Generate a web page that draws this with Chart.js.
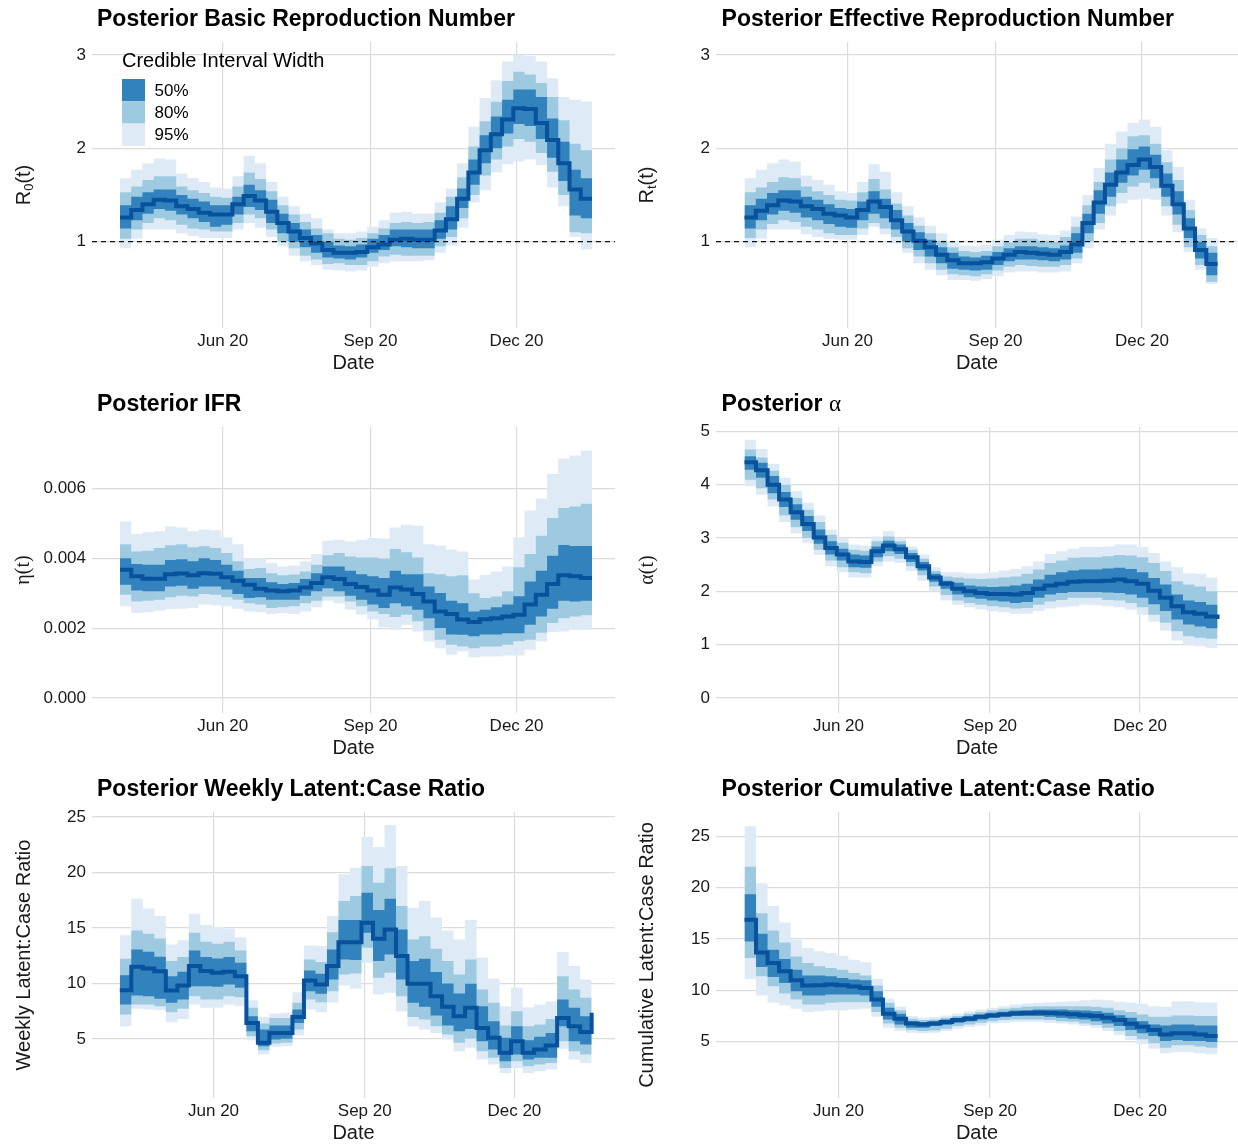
<!DOCTYPE html>
<html>
<head>
<meta charset="utf-8">
<title>Posterior estimates</title>
<script src="https://cdn.jsdelivr.net/npm/chart.js@4.4.1/dist/chart.umd.min.js"></script>
<style>
  html, body { margin: 0; padding: 0; background: #fff; }
  #wrap { position: relative; width: 1238px; height: 1145px; }
  canvas { position: absolute; }
</style>
</head>
<body>
<div id="wrap">
  <canvas id="c1" width="619" height="385" style="left:0;top:0"></canvas>
  <canvas id="c2" width="619" height="385" style="left:619px;top:0"></canvas>
  <canvas id="c3" width="619" height="385" style="left:0;top:385px"></canvas>
  <canvas id="c4" width="619" height="385" style="left:619px;top:385px"></canvas>
  <canvas id="c5" width="619" height="375" style="left:0;top:770px"></canvas>
  <canvas id="c6" width="619" height="375" style="left:619px;top:770px"></canvas>
</div>
<script>
// weekly dates (start of each week), last one closes the final step
const weekDates = ['2020-03-29','2020-04-05','2020-04-12','2020-04-19','2020-04-26','2020-05-03','2020-05-10','2020-05-17','2020-05-24','2020-05-31',
  '2020-06-07','2020-06-14','2020-06-21','2020-06-28','2020-07-05','2020-07-12','2020-07-19','2020-07-26','2020-08-02','2020-08-09',
  '2020-08-16','2020-08-23','2020-08-30','2020-09-06','2020-09-13','2020-09-20','2020-09-27','2020-10-04','2020-10-11','2020-10-18',
  '2020-10-25','2020-11-01','2020-11-08','2020-11-15','2020-11-22','2020-11-29','2020-12-06','2020-12-13','2020-12-20','2020-12-27',
  '2021-01-03','2021-01-10','2021-01-17'];
const xTickDates = ['2020-06-01', '2020-09-01', '2020-12-01'];
const xTickLabels = ['Jun 20', 'Sep 20', 'Dec 20'];
const legendLabels = ['50%', '80%', '95%'];

// basic reproduction number R0(t)
const r0Median = [1.26,1.34,1.40,1.45,1.44,1.38,1.35,1.31,1.29,1.29,1.40,1.49,1.44,1.32,1.20,1.11,1.04,0.98,0.91,0.88,0.88,0.89,0.94,0.97,1.02,1.03,1.02,1.02,1.12,1.24,1.46,1.74,1.98,2.15,2.31,2.43,2.42,2.27,2.09,1.84,1.56,1.46,1.46];
const r0Lo50 = [1.14,1.23,1.30,1.35,1.33,1.29,1.25,1.21,1.16,1.18,1.29,1.37,1.34,1.20,1.09,1.00,0.94,0.88,0.83,0.82,0.81,0.83,0.88,0.91,0.95,0.94,0.93,0.93,1.03,1.13,1.36,1.61,1.84,2.00,2.16,2.26,2.24,2.10,1.90,1.65,1.28,1.25,1.25];
const r0Hi50 = [1.39,1.48,1.53,1.56,1.56,1.50,1.46,1.43,1.39,1.39,1.48,1.61,1.55,1.45,1.30,1.20,1.13,1.07,1.00,0.96,0.95,0.97,1.03,1.07,1.13,1.13,1.13,1.13,1.23,1.38,1.57,1.88,2.14,2.34,2.52,2.63,2.63,2.55,2.32,2.07,1.77,1.68,1.68];
const r0Lo80 = [1.03,1.13,1.20,1.25,1.23,1.18,1.14,1.13,1.11,1.11,1.20,1.29,1.25,1.13,1.00,0.93,0.85,0.81,0.76,0.77,0.75,0.75,0.79,0.84,0.86,0.85,0.85,0.85,0.95,1.05,1.25,1.50,1.71,1.88,2.02,2.10,2.07,1.95,1.75,1.50,1.10,1.09,1.09];
const r0Hi80 = [1.53,1.59,1.66,1.70,1.70,1.59,1.55,1.52,1.48,1.47,1.59,1.74,1.67,1.54,1.39,1.29,1.21,1.14,1.09,1.03,1.02,1.04,1.09,1.14,1.20,1.21,1.20,1.21,1.31,1.48,1.69,2.02,2.29,2.50,2.72,2.82,2.79,2.70,2.55,2.30,2.05,1.98,1.98];
const r0Lo95 = [0.93,1.03,1.13,1.13,1.13,1.09,1.06,1.04,1.04,1.04,1.13,1.20,1.15,1.05,0.95,0.85,0.79,0.75,0.70,0.69,0.68,0.69,0.73,0.77,0.79,0.79,0.79,0.80,0.88,0.96,1.15,1.42,1.55,1.74,1.83,1.86,1.88,1.82,1.58,1.38,1.05,0.92,0.92];
const r0Hi95 = [1.68,1.77,1.84,1.89,1.88,1.73,1.68,1.64,1.58,1.57,1.70,1.92,1.84,1.64,1.48,1.38,1.30,1.25,1.13,1.09,1.09,1.11,1.16,1.23,1.31,1.32,1.30,1.30,1.42,1.57,1.84,2.23,2.54,2.73,2.93,3.00,2.99,2.93,2.75,2.55,2.52,2.50,2.50];

// effective reproduction number Rt(t)
const rtMedian = [1.26,1.33,1.39,1.44,1.43,1.38,1.35,1.30,1.28,1.26,1.34,1.43,1.37,1.23,1.11,1.01,0.94,0.86,0.80,0.77,0.77,0.78,0.82,0.86,0.89,0.88,0.87,0.86,0.89,0.97,1.20,1.42,1.61,1.74,1.82,1.88,1.80,1.60,1.40,1.14,0.91,0.76,0.76];
const rtLo50 = [1.14,1.23,1.29,1.33,1.31,1.26,1.23,1.19,1.16,1.15,1.23,1.30,1.25,1.13,1.00,0.91,0.84,0.77,0.71,0.70,0.69,0.70,0.75,0.79,0.81,0.81,0.80,0.79,0.81,0.88,1.09,1.30,1.48,1.63,1.71,1.77,1.68,1.48,1.29,1.04,0.82,0.64,0.64];
const rtHi50 = [1.39,1.46,1.52,1.55,1.55,1.48,1.45,1.40,1.36,1.35,1.43,1.54,1.46,1.34,1.20,1.10,1.02,0.94,0.88,0.84,0.83,0.85,0.89,0.93,0.95,0.95,0.94,0.93,0.96,1.09,1.30,1.55,1.74,1.88,1.99,2.02,1.93,1.73,1.54,1.25,1.00,0.88,0.88];
const rtLo80 = [1.04,1.13,1.19,1.23,1.21,1.16,1.13,1.09,1.07,1.07,1.14,1.20,1.14,1.05,0.93,0.84,0.77,0.70,0.65,0.64,0.63,0.65,0.69,0.73,0.75,0.74,0.73,0.73,0.75,0.82,1.00,1.20,1.38,1.52,1.59,1.63,1.57,1.38,1.18,0.94,0.75,0.57,0.57];
const rtHi80 = [1.53,1.58,1.64,1.69,1.68,1.59,1.54,1.50,1.45,1.44,1.53,1.67,1.56,1.41,1.28,1.17,1.09,1.01,0.94,0.90,0.89,0.90,0.95,0.99,1.03,1.03,1.01,1.00,1.05,1.16,1.39,1.64,1.88,2.00,2.13,2.14,2.05,1.85,1.66,1.34,1.07,0.95,0.95];
const rtLo95 = [0.94,1.03,1.13,1.13,1.13,1.08,1.05,1.03,1.02,1.02,1.07,1.16,1.08,0.98,0.88,0.77,0.70,0.64,0.59,0.59,0.58,0.60,0.63,0.67,0.68,0.68,0.67,0.67,0.68,0.77,0.93,1.13,1.28,1.41,1.45,1.46,1.45,1.28,1.10,0.89,0.70,0.55,0.48];
const rtHi95 = [1.68,1.77,1.84,1.88,1.86,1.71,1.66,1.61,1.54,1.52,1.64,1.83,1.75,1.53,1.38,1.26,1.17,1.09,1.01,0.96,0.95,0.97,1.02,1.07,1.11,1.10,1.08,1.07,1.12,1.27,1.50,1.79,2.05,2.18,2.27,2.31,2.23,1.98,1.80,1.45,1.14,1.04,1.04];

// infection fatality ratio eta(t)
const ifrMedian = [0.00368,0.00349,0.00342,0.00342,0.00355,0.00357,0.00352,0.00358,0.00356,0.00346,0.00336,0.00325,0.00313,0.00308,0.00306,0.00308,0.00317,0.00330,0.00346,0.00341,0.00327,0.00318,0.00308,0.00296,0.00317,0.00311,0.00298,0.00277,0.00248,0.00241,0.00225,0.00218,0.00226,0.00229,0.00234,0.00239,0.00268,0.00296,0.00327,0.00352,0.00349,0.00344,0.00344];
const ifrLo50 = [0.00325,0.00308,0.00306,0.00306,0.00320,0.00322,0.00313,0.00320,0.00320,0.00311,0.00298,0.00287,0.00289,0.00282,0.00282,0.00282,0.00293,0.00306,0.00315,0.00306,0.00293,0.00282,0.00268,0.00258,0.00272,0.00263,0.00253,0.00229,0.00201,0.00182,0.00181,0.00177,0.00182,0.00182,0.00186,0.00186,0.00210,0.00234,0.00256,0.00279,0.00277,0.00279,0.00279];
const ifrHi50 = [0.00401,0.00384,0.00382,0.00382,0.00396,0.00398,0.00392,0.00401,0.00396,0.00382,0.00365,0.00344,0.00344,0.00332,0.00327,0.00330,0.00341,0.00358,0.00377,0.00377,0.00365,0.00355,0.00349,0.00344,0.00365,0.00355,0.00355,0.00320,0.00301,0.00279,0.00272,0.00248,0.00253,0.00260,0.00268,0.00292,0.00334,0.00365,0.00408,0.00439,0.00436,0.00436,0.00436];
const ifrLo80 = [0.00296,0.00277,0.00279,0.00282,0.00289,0.00293,0.00291,0.00298,0.00296,0.00289,0.00282,0.00272,0.00268,0.00258,0.00260,0.00263,0.00272,0.00279,0.00291,0.00291,0.00277,0.00263,0.00248,0.00241,0.00232,0.00239,0.00220,0.00194,0.00167,0.00153,0.00148,0.00143,0.00148,0.00148,0.00153,0.00163,0.00167,0.00187,0.00215,0.00229,0.00234,0.00237,0.00237];
const ifrHi80 = [0.00441,0.00420,0.00422,0.00430,0.00438,0.00441,0.00432,0.00435,0.00430,0.00416,0.00392,0.00370,0.00373,0.00358,0.00352,0.00354,0.00363,0.00382,0.00409,0.00416,0.00406,0.00403,0.00403,0.00400,0.00427,0.00418,0.00403,0.00358,0.00355,0.00349,0.00352,0.00300,0.00287,0.00291,0.00306,0.00375,0.00413,0.00465,0.00516,0.00545,0.00549,0.00557,0.00557];
const ifrLo95 = [0.00263,0.00244,0.00246,0.00250,0.00255,0.00256,0.00258,0.00268,0.00266,0.00263,0.00256,0.00248,0.00246,0.00241,0.00244,0.00241,0.00248,0.00260,0.00279,0.00272,0.00253,0.00239,0.00225,0.00203,0.00196,0.00210,0.00191,0.00162,0.00143,0.00124,0.00134,0.00117,0.00119,0.00119,0.00122,0.00122,0.00138,0.00162,0.00189,0.00191,0.00196,0.00196,0.00196];
const ifrHi95 = [0.00506,0.00470,0.00475,0.00478,0.00492,0.00489,0.00478,0.00483,0.00481,0.00461,0.00441,0.00401,0.00401,0.00387,0.00377,0.00380,0.00392,0.00413,0.00451,0.00454,0.00449,0.00454,0.00459,0.00457,0.00489,0.00497,0.00494,0.00441,0.00437,0.00425,0.00420,0.00340,0.00353,0.00363,0.00377,0.00461,0.00537,0.00571,0.00642,0.00686,0.00695,0.00709,0.00740];

// alpha(t), from the second week
const alphaMedian = [4.42,4.27,4.00,3.72,3.48,3.26,3.01,2.81,2.69,2.56,2.55,2.75,2.86,2.79,2.64,2.47,2.26,2.14,2.05,2.00,1.97,1.95,1.95,1.94,1.97,2.05,2.11,2.14,2.18,2.19,2.19,2.20,2.22,2.19,2.14,2.01,1.88,1.72,1.61,1.58,1.53,1.48];
const alphaLo50 = [4.28,4.13,3.84,3.58,3.34,3.13,2.89,2.69,2.58,2.45,2.44,2.64,2.75,2.70,2.55,2.39,2.18,2.05,1.94,1.89,1.86,1.83,1.81,1.78,1.80,1.88,1.94,1.97,1.99,1.99,1.99,1.98,1.97,1.94,1.88,1.76,1.63,1.47,1.38,1.34,1.31,1.28];
const alphaHi50 = [4.53,4.41,4.16,3.86,3.63,3.41,3.16,2.94,2.80,2.69,2.67,2.84,2.95,2.88,2.72,2.55,2.33,2.20,2.16,2.11,2.09,2.08,2.09,2.11,2.14,2.22,2.31,2.36,2.39,2.41,2.41,2.43,2.44,2.42,2.36,2.25,2.13,1.94,1.83,1.80,1.75,1.72];
const alphaLo80 = [4.09,3.93,3.72,3.42,3.20,3.00,2.78,2.58,2.45,2.36,2.34,2.56,2.66,2.61,2.47,2.30,2.09,1.93,1.83,1.78,1.75,1.72,1.70,1.68,1.69,1.75,1.81,1.84,1.88,1.88,1.88,1.84,1.83,1.78,1.70,1.56,1.41,1.25,1.16,1.13,1.11,1.09];
const alphaHi80 = [4.66,4.51,4.26,4.00,3.75,3.53,3.30,3.06,2.91,2.78,2.76,2.94,3.03,2.94,2.78,2.61,2.38,2.28,2.26,2.24,2.23,2.24,2.26,2.28,2.33,2.41,2.53,2.58,2.63,2.64,2.64,2.66,2.68,2.67,2.64,2.53,2.38,2.19,2.13,2.09,2.00,1.98];
const alphaLo95 = [3.97,3.81,3.59,3.30,3.09,2.91,2.68,2.47,2.36,2.26,2.26,2.47,2.56,2.53,2.38,2.20,2.00,1.83,1.75,1.70,1.66,1.63,1.61,1.58,1.58,1.63,1.68,1.70,1.72,1.75,1.74,1.72,1.70,1.66,1.56,1.43,1.26,1.08,1.00,0.97,0.94,0.92];
const alphaHi95 = [4.84,4.67,4.39,4.13,3.88,3.66,3.42,3.16,3.00,2.88,2.86,3.03,3.13,3.00,2.84,2.69,2.45,2.36,2.36,2.34,2.34,2.36,2.39,2.42,2.47,2.56,2.70,2.75,2.80,2.83,2.83,2.84,2.88,2.88,2.83,2.72,2.56,2.45,2.34,2.33,2.26,2.22];

// weekly latent:case ratio
const weeklyMedian = [9.39,11.50,11.35,11.10,9.36,9.81,11.56,11.11,10.95,11.05,10.65,6.44,4.64,5.54,5.54,6.98,10.26,9.90,11.56,13.72,13.72,15.47,14.02,14.86,12.46,9.96,9.96,8.85,7.89,7.05,7.80,5.99,5.09,3.74,4.79,3.74,4.04,4.40,6.89,6.14,5.63,7.35];
const weeklyLo50 = [8.10,8.91,8.85,8.61,8.25,8.55,9.75,9.75,9.69,9.90,9.60,5.69,4.34,4.94,5.00,6.44,9.30,9.06,10.35,12.16,12.10,14.56,12.01,12.61,10.35,8.25,7.89,7.11,6.20,5.69,5.90,4.79,4.04,2.98,3.59,3.14,3.29,3.29,6.14,4.79,4.49,5.90];
const weeklyHi50 = [10.74,13.06,12.85,12.40,10.65,11.05,12.97,12.37,12.25,12.37,11.86,7.05,5.84,6.20,6.20,7.65,11.17,10.86,13.06,15.71,15.71,18.17,16.61,17.63,14.86,12.01,12.22,11.02,9.99,9.09,9.96,7.95,6.59,5.09,6.14,4.88,5.18,5.54,8.55,7.80,7.05,8.60];
const weeklyLo80 = [7.20,8.10,8.10,7.95,7.41,7.71,8.85,8.55,8.55,8.85,8.76,5.24,3.98,4.58,4.64,5.84,8.55,8.31,9.30,10.80,10.89,13.21,10.50,10.95,8.85,6.98,6.74,6.14,5.39,4.64,5.00,3.89,3.29,2.38,2.98,2.53,2.68,2.83,4.79,3.89,3.59,4.40];
const weeklyHi80 = [12.22,14.77,14.47,14.05,12.01,12.37,14.56,13.75,13.57,13.75,12.97,7.80,6.38,6.89,6.89,8.25,12.16,11.92,14.62,17.42,17.87,20.58,19.08,20.37,16.97,13.96,14.26,13.12,12.01,10.80,12.16,9.45,8.25,6.20,7.50,6.14,6.29,6.80,10.65,9.45,8.70,10.30];
const weeklyLo95 = [6.14,7.71,7.65,7.59,6.50,6.80,8.10,7.80,7.80,8.10,7.95,4.88,3.59,4.28,4.34,5.30,7.65,7.41,8.31,9.81,9.51,11.86,9.00,9.15,7.50,6.14,5.84,5.54,4.94,3.89,4.19,3.14,2.68,1.93,2.38,1.93,2.08,2.23,4.10,3.14,2.83,3.50];
const weeklyHi95 = [14.35,17.63,16.73,16.07,13.51,13.90,16.28,15.26,15.08,14.92,14.17,8.49,6.98,7.29,7.35,9.21,13.42,13.36,16.07,19.83,20.43,23.20,22.29,24.28,20.58,16.82,17.42,15.92,14.77,13.96,15.71,12.31,10.41,7.95,9.60,7.86,8.10,8.40,12.82,11.56,10.35,13.20];

// cumulative latent:case ratio
const cumMedian = [16.86,13.69,12.66,11.85,10.98,10.46,10.49,10.56,10.49,10.36,10.23,9.10,7.71,7.22,6.78,6.68,6.78,6.91,7.10,7.23,7.42,7.55,7.65,7.75,7.78,7.81,7.78,7.75,7.68,7.58,7.49,7.33,7.10,6.75,6.45,6.13,5.71,5.81,5.81,5.71,5.55,5.55];
const cumLo50 = [14.76,12.27,11.30,10.72,9.91,9.49,9.49,9.59,9.59,9.59,9.49,8.39,7.16,6.68,6.36,6.36,6.52,6.65,6.84,7.00,7.16,7.33,7.42,7.49,7.49,7.49,7.42,7.33,7.23,7.16,7.00,6.78,6.52,6.13,5.81,5.55,5.06,5.16,5.06,5.06,4.97,4.97];
const cumHi50 = [19.35,15.50,13.95,13.05,12.01,11.43,11.43,11.37,11.20,11.04,10.98,9.91,8.30,7.71,7.00,6.91,7.00,7.16,7.33,7.49,7.65,7.81,7.91,8.04,8.07,8.13,8.13,8.13,8.07,8.04,7.97,7.81,7.58,7.33,7.00,6.68,6.58,6.68,6.68,6.58,6.58,6.58];
const cumLo80 = [13.14,11.36,10.40,9.68,9.10,8.62,8.62,8.78,8.84,8.84,8.84,7.88,6.78,6.36,6.13,6.03,6.10,6.26,6.52,6.68,6.84,7.00,7.10,7.16,7.16,7.16,7.10,7.00,6.94,6.78,6.62,6.36,6.03,5.55,5.23,4.84,4.42,4.65,4.65,4.52,4.42,4.42];
const cumHi80 = [22.03,17.50,15.82,14.66,13.30,12.66,12.33,12.17,12.01,11.69,11.43,10.46,8.78,8.07,7.23,7.10,7.16,7.33,7.49,7.71,7.88,8.07,8.20,8.30,8.39,8.46,8.46,8.46,8.46,8.46,8.39,8.30,8.07,7.88,7.65,7.42,7.42,7.55,7.55,7.49,7.49,7.49];
const cumLo95 = [11.11,9.49,8.78,8.52,8.20,7.88,7.97,8.07,8.07,8.13,8.20,7.42,6.36,6.03,5.87,5.81,5.87,6.03,6.26,6.45,6.58,6.78,6.84,6.91,6.94,6.94,6.84,6.78,6.68,6.52,6.36,6.03,5.65,5.16,4.74,4.32,3.87,4.00,4.00,3.87,3.77,3.77];
const cumHi95 = [25.97,20.41,18.21,16.60,14.92,14.11,13.79,13.63,13.37,12.98,12.72,11.11,9.17,8.39,7.49,7.33,7.39,7.55,7.75,7.97,8.13,8.30,8.46,8.62,8.72,8.78,8.84,8.88,8.94,9.04,9.10,9.04,8.88,8.78,8.68,8.46,8.39,8.94,8.94,8.84,8.78,8.78];

const FONT = "'Liberation Sans', Arial, Helvetica, sans-serif";
const SERIF = "'Liberation Serif', 'DejaVu Serif', 'Times New Roman', serif";
const BAND95 = '#deebf7', BAND80 = '#9ecae1', BAND50 = '#3182bd', MEDIAN = '#08519c';
const GRID = '#dcdcdc', INK = '#1a1a1a';

const DAY0 = Date.UTC(2020, 0, 1);
function toDay(s) {
  const [y, m, d] = s.split('-').map(Number);
  return (Date.UTC(y, m - 1, d) - DAY0) / 86400000;
}
const weekDays = weekDates.map(toDay);
const xTickDays = xTickDates.map(toDay);

function pts(days, vals) {
  return vals.map((v, i) => ({x: days[i], y: v}));
}

function band(days, lo, hi, color, order) {
  return [
    {data: pts(days, lo), borderWidth: 0, pointRadius: 0, stepped: true, fill: false, order: order},
    {data: pts(days, hi), borderWidth: 0, pointRadius: 0, stepped: true, fill: '-1', backgroundColor: color, order: order}
  ];
}

// titles, subscripted y labels and the legend are drawn here
const panelText = {
  id: 'panelText',
  afterDraw(chart, args, o) {
    const ctx = chart.ctx;
    ctx.save();
    ctx.fillStyle = '#000';
    ctx.textAlign = 'left';
    ctx.textBaseline = 'alphabetic';
    ctx.font = 'bold 23px ' + FONT;
    ctx.fillText(o.title, o.titleX, 26);
    if (o.titleGreek) {
      const w = ctx.measureText(o.title + ' ').width;
      ctx.font = '23px ' + SERIF;
      ctx.fillText(o.titleGreek, o.titleX + w, 26);
    }
    if (o.ySub) {
      const area = chart.chartArea;
      ctx.translate(o.yTitleX, (area.top + area.bottom) / 2);
      ctx.rotate(-Math.PI / 2);
      ctx.textBaseline = 'middle';
      ctx.fillStyle = INK;
      const big = '20px ' + FONT, small = '13px ' + FONT;
      ctx.font = big;
      const wR = ctx.measureText('R').width, wP = ctx.measureText('(t)').width;
      ctx.font = small;
      const wS = ctx.measureText(o.ySub).width;
      let x = -(wR + wS + wP) / 2;
      ctx.font = big; ctx.fillText('R', x, 0); x += wR;
      ctx.font = small; ctx.fillText(o.ySub, x, 5); x += wS;
      ctx.font = big; ctx.fillText('(t)', x, 0);
      ctx.setTransform(1, 0, 0, 1, 0, 0);
    }
    if (o.legend) {
      ctx.textBaseline = 'alphabetic';
      ctx.fillStyle = '#000';
      ctx.font = '20px ' + FONT;
      ctx.fillText('Credible Interval Width', 122, 66.5);
      const cols = [BAND50, BAND80, BAND95];
      ctx.font = '17px ' + FONT;
      ctx.textBaseline = 'middle';
      cols.forEach((c, i) => {
        ctx.fillStyle = c;
        ctx.fillRect(122, 79 + 22.3 * i, 23, 22.3);
        ctx.fillStyle = '#000';
        ctx.fillText(legendLabels[i], 154.5, 91 + 22.3 * i);
      });
    }
    ctx.restore();
  }
};

const panels = [
  {id: 'c1', col: 0, h: 385, title: 'Posterior Basic Reproduction Number', ySub: '0', legend: true, ref: true,
   yMin: 0.075, yMax: 3.139, yTicks: [1, 2, 3], days: weekDays, xMin: 70.56, xMax: 396.33,
   s: [r0Median, r0Lo50, r0Hi50, r0Lo80, r0Hi80, r0Lo95, r0Hi95]},
  {id: 'c2', col: 1, h: 385, title: 'Posterior Effective Reproduction Number', ySub: 't', ref: true,
   yMin: 0.075, yMax: 3.139, yTicks: [1, 2, 3], days: weekDays, xMin: 70.29, xMax: 394.7,
   s: [rtMedian, rtLo50, rtHi50, rtLo80, rtHi80, rtLo95, rtHi95]},
  {id: 'c3', col: 0, h: 385, title: 'Posterior IFR', yTitle: 'η(t)', yFont: SERIF,
   yMin: -0.00043, yMax: 0.00777, yTicks: [0, 0.002, 0.004, 0.006], yFmt: v => v.toFixed(3), days: weekDays, xMin: 70.56, xMax: 396.33,
   s: [ifrMedian, ifrLo50, ifrHi50, ifrLo80, ifrHi80, ifrLo95, ifrHi95]},
  {id: 'c4', col: 1, h: 385, title: 'Posterior', titleGreek: 'α', yTitle: 'α(t)', yFont: SERIF,
   yMin: -0.28, yMax: 5.08, yTicks: [0, 1, 2, 3, 4, 5], days: weekDays.slice(1), xMin: 77.71, xMax: 394.4,
   s: [alphaMedian, alphaLo50, alphaHi50, alphaLo80, alphaHi80, alphaLo95, alphaHi95]},
  {id: 'c5', col: 0, h: 375, title: 'Posterior Weekly Latent:Case Ratio', yTitle: 'Weekly Latent:Case Ratio', yFont: FONT,
   yMin: -0.33, yMax: 25.45, yTicks: [5, 10, 15, 20, 25], days: weekDays.slice(1), xMin: 78.09, xMax: 396.2,
   s: [weeklyMedian, weeklyLo50, weeklyHi50, weeklyLo80, weeklyHi80, weeklyLo95, weeklyHi95]},
  {id: 'c6', col: 1, h: 375, title: 'Posterior Cumulative Latent:Case Ratio', yTitle: 'Cumulative Latent:Case Ratio', yFont: FONT,
   yMin: -0.48, yMax: 27.35, yTicks: [5, 10, 15, 20, 25], days: weekDays.slice(1), xMin: 77.71, xMax: 394.4,
   s: [cumMedian, cumLo50, cumHi50, cumLo80, cumHi80, cumLo95, cumHi95]}
];

panels.forEach(p => {
  const [med, lo50, hi50, lo80, hi80, lo95, hi95] = p.s;
  const left = p.col === 0 ? 92 : 97;
  const datasets = [
    ...band(p.days, lo95, hi95, BAND95, 4),
    ...band(p.days, lo80, hi80, BAND80, 3),
    ...band(p.days, lo50, hi50, BAND50, 2),
    {data: pts(p.days, med), borderColor: MEDIAN, borderWidth: 4, pointRadius: 0, stepped: true, fill: false,
     borderJoinStyle: 'miter', borderCapStyle: 'butt', order: 1}
  ];
  if (p.ref) {
    datasets.push({data: [{x: p.xMin, y: 1}, {x: p.xMax, y: 1}], borderColor: '#111', borderWidth: 1.4,
      borderDash: [5, 4], pointRadius: 0, fill: false, order: 0});
  }
  new Chart(document.getElementById(p.id), {
    type: 'line',
    data: {datasets: datasets},
    plugins: [panelText],
    options: {
      animation: false,
      responsive: false,
      devicePixelRatio: 1,
      events: [],
      layout: {padding: {left: 0, top: 42, right: p.col === 0 ? 4 : 0, bottom: p.h - 328 - 47}},
      plugins: {
        legend: {display: false},
        tooltip: {enabled: false},
        panelText: {title: p.title, titleGreek: p.titleGreek, titleX: p.col === 0 ? 97 : 102.6,
                    ySub: p.ySub, yTitleX: p.col === 0 ? 24 : 28.5, legend: p.legend}
      },
      scales: {
        x: {
          type: 'linear', min: p.xMin, max: p.xMax,
          border: {display: false},
          grid: {color: GRID, lineWidth: 1.2, drawTicks: false},
          ticks: {font: {family: FONT, size: 17}, color: INK, padding: 3, maxRotation: 0, autoSkip: false,
                  callback: v => { const i = xTickDays.indexOf(v); return i >= 0 ? xTickLabels[i] : ''; }},
          afterBuildTicks: s => { s.ticks = xTickDays.map(v => ({value: v})); },
          afterFit: s => { s.height = 47; },
          title: {display: true, text: 'Date', color: INK, font: {family: FONT, size: 20}, padding: {top: 0, bottom: 0}}
        },
        y: {
          min: p.yMin, max: p.yMax,
          border: {display: false},
          grid: {color: GRID, lineWidth: 1.2, drawTicks: false},
          ticks: {font: {family: FONT, size: 17}, color: INK, padding: 6,
                  callback: v => p.yFmt ? p.yFmt(v) : String(v)},
          afterBuildTicks: s => { s.ticks = p.yTicks.map(v => ({value: v})); },
          afterFit: s => { s.width = left; },
          title: {display: !!p.yTitle, text: p.yTitle || '', color: INK, font: {family: p.yFont || FONT, size: 20},
                  padding: {top: p.col === 0 ? 12 : 16.5, bottom: 0}}
        }
      }
    }
  });
});
</script>
</body>
</html>
